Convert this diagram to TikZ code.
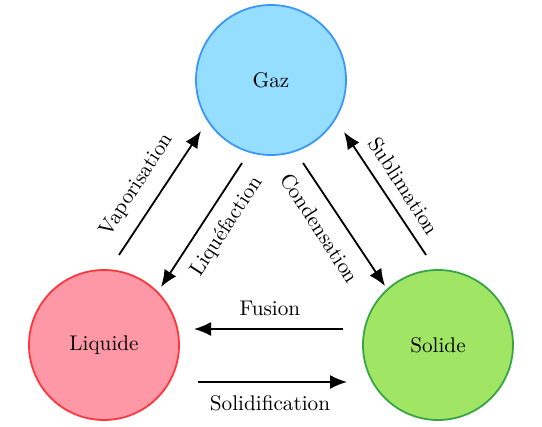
\documentclass[tikz,border=0pt]{standalone}
\usetikzlibrary{arrows.meta}
\definecolor{gazfill}{RGB}{150,222,255}
\definecolor{gazdraw}{RGB}{60,150,255}
\definecolor{liqfill}{RGB}{255,152,166}
\definecolor{liqdraw}{RGB}{255,55,60}
\definecolor{solfill}{RGB}{160,230,100}
\definecolor{soldraw}{RGB}{55,165,70}
\begin{document}
\begin{tikzpicture}[x=0.5pt,y=-0.5pt,
  every node/.style={font=\fontsize{10.6}{12}\selectfont},
  phase/.style={circle,minimum size=75pt,inner sep=0pt,line width=0.9pt},
  trans/.style={-{Latex[length=8.5pt,width=7pt]},line width=0.9pt},
  lbl/.style={inner sep=0pt}]
\useasboundingbox (0,0) rectangle (542,427);
\node[phase,draw=gazdraw,fill=gazfill] (gaz) at (271,80) {Gaz};
\node[phase,draw=liqdraw,fill=liqfill] (liq) at (104,345) {Liquide};
\node[phase,draw=soldraw,fill=solfill] (sol) at (438,345) {Solide};
\coordinate (v1) at (119,255); \coordinate (v2) at (201,131);
\coordinate (l1) at (242,163); \coordinate (l2) at (161,287);
\coordinate (c1) at (303,163); \coordinate (c2) at (385,286);
\coordinate (s1) at (426,255); \coordinate (s2) at (344,132);
\coordinate (f1) at (343,329); \coordinate (f2) at (194,329);
\coordinate (d1) at (198,382); \coordinate (d2) at (347,382);
\draw[trans] (v1) -- (v2);
\draw[trans] (l1) -- (l2);
\draw[trans] (c1) -- (c2);
\draw[trans] (s1) -- (s2);
\draw[trans] (f1) -- (f2);
\draw[trans] (d1) -- (d2);
\node[lbl,rotate=57] (tv) at (137,185) {Vaporisation};
\node[lbl,rotate=57] (tl) at (227,227) {Liquéfaction};
\node[lbl,rotate=-57] (tc) at (320,228) {Condensation};
\node[lbl,rotate=-57] (ts) at (404,186) {Sublimation};
\node[lbl] (tf) at (270,308) {Fusion};
\node[lbl] (td) at (270,403) {Solidification};
\end{tikzpicture}
\end{document}
